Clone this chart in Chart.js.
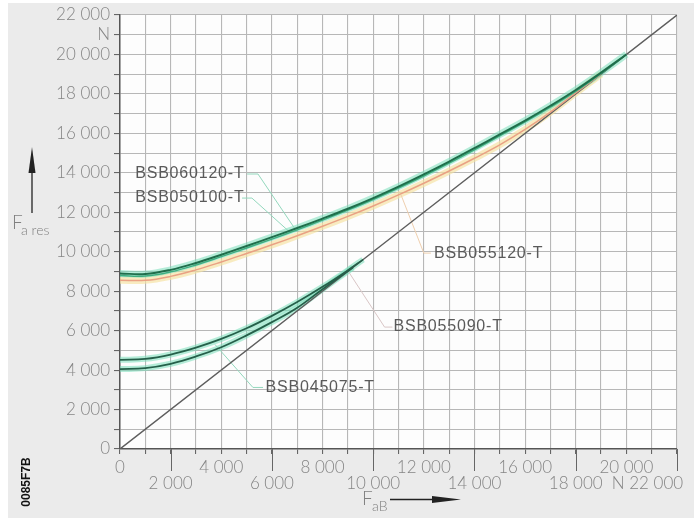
<!DOCTYPE html>
<html>
<head>
<meta charset="utf-8">
<script src="https://cdn.jsdelivr.net/npm/chart.js@4.4.1/dist/chart.umd.min.js"></script>
<style>
  html, body { margin: 0; padding: 0; background: #fff; }
  canvas { display: block; }
</style>
</head>
<body>
<canvas id="chart" width="694" height="518"></canvas>
<script>
// Axial load F_aB (N) at which the curves are tabulated
const axialLoad = [0, 1000, 2000, 3000, 4000, 5000, 6000, 7000, 8000, 9000, 10000,
                   11000, 12000, 13000, 14000, 15000, 16000, 17000, 18000, 19000, 20000];
const axialLoadLowA = [0, 1000, 2000, 3000, 4000, 5000, 6000, 7000, 8000, 9000, 9600];
const axialLoadLowB = [0, 1000, 2000, 3000, 4000, 5000, 6000, 7000, 8000, 9200];

// Resulting axial force F_a res (N) per nut size
const bsb060120 = [8900, 8870, 9080, 9430, 9850, 10290, 10740, 11200, 11680, 12180, 12720,
                   13300, 13920, 14570, 15250, 15950, 16650, 17400, 18200, 19080, 20000];
const bsb050100 = [8790, 8770, 8980, 9330, 9750, 10190, 10640, 11110, 11600, 12110, 12650,
                   13230, 13840, 14490, 15170, 15870, 16580, 17330, 18130, 19030, 20000];
const bsb055120 = [8560, 8550, 8750, 9080, 9480, 9910, 10350, 10810, 11290, 11790, 12320,
                   12880, 13470, 14090, 14740, 15420, 16200, 17080, 18050, 19000];
const bsb055090 = [4520, 4570, 4790, 5140, 5580, 6120, 6750, 7450, 8220, 9060, 9600];
const bsb045075 = [4050, 4100, 4320, 4690, 5160, 5760, 6430, 7160, 8100, 9200];

// Line of F_a res = F_aB
const referenceLine = [0, 22000];

// Axis range and tick step
const axisMax = 22000;
const tickStep = 1000;

// Series names
const seriesNames = ['BSB060120-T', 'BSB050100-T', 'BSB055120-T', 'BSB055090-T', 'BSB045075-T'];

// Callout leaders (data coordinates) and label anchors
const leader060120 = { x: [5020, 5450, 6900], y: [13940, 13940, 11180] };
const leader050100 = { x: [4820, 5210, 6700], y: [12720, 12720, 11000] };
const leader055120 = { x: [12280, 12000, 11100], y: [9930, 9930, 12880] };
const leader055090 = { x: [10760, 10450, 9000], y: [6180, 6180, 9040] };
const leader045075 = { x: [5650, 5250, 3750], y: [3120, 3120, 5300] };
const labelAnchors = [
  { x: 600, y: 13940 },
  { x: 600, y: 12720 },
  { x: 12400, y: 9930 },
  { x: 10800, y: 6180 },
  { x: 5750, y: 3120 }
];

const zip = (xs, ys) => ys.map((y, i) => ({ x: xs[i], y }));

const fmtThousands = v => v === 0 ? '0' : Math.floor(v / 1000) + ' ' + '000';

const TICK_FONT = { family: 'Lato, "DejaVu Sans", sans-serif', size: 17, weight: '300', lineHeight: 0.95 };
const TICK_COLOR = '#858585';

function curve(data, color, width, order) {
  return {
    data, borderColor: color, borderWidth: width, pointRadius: 0,
    showLine: true, fill: false, tension: 0.4, order
  };
}
function leader(obj, color) {
  return {
    data: zip(obj.x, obj.y), borderColor: color, borderWidth: 1, pointRadius: 0,
    showLine: true, fill: false, tension: 0, order: 20
  };
}

const mint = 'rgba(120, 222, 186, 0.55)';
const cream = 'rgba(246, 226, 160, 0.65)';

const datasets = [
  // halos
  curve(zip(axialLoad, bsb060120), mint, 7, 30),
  curve(zip(axialLoad, bsb055120), cream, 7, 31),
  curve(zip(axialLoadLowA, bsb055090), mint, 6, 30),
  curve(zip(axialLoadLowB, bsb045075), mint, 6, 30),
  // leaders
  leader(leader060120, '#93d8bd'),
  leader(leader050100, '#93d8bd'),
  leader(leader055120, '#efcfae'),
  leader(leader055090, '#d9c6c6'),
  leader(leader045075, '#93d8bd'),
  // reference line
  curve(zip(referenceLine, referenceLine), '#5e5e5e', 1.4, 5),
  // curves
  curve(zip(axialLoad, bsb055120), '#e9a184', 1.5, 4),
  curve(zip(axialLoad, bsb050100), '#3fae80', 1.5, 3),
  curve(zip(axialLoad, bsb060120), '#1f6e4b', 2, 2),
  curve(zip(axialLoadLowA, bsb055090), '#25604a', 1.8, 2),
  curve(zip(axialLoadLowB, bsb045075), '#25604a', 1.8, 2)
];

const decor = {
  id: 'decor',
  beforeDraw(chart) {
    const { ctx, chartArea: a } = chart;
    ctx.save();
    ctx.fillStyle = '#ffffff';
    ctx.fillRect(0, 0, chart.width, chart.height);
    ctx.fillStyle = '#ebebeb';
    ctx.fillRect(8, 3, chart.width - 8, chart.height - 3);
    ctx.fillStyle = '#fdfdfd';
    ctx.fillRect(a.left, a.top, a.right - a.left, a.bottom - a.top);
    ctx.restore();
  },
  afterDraw(chart) {
    const { ctx, chartArea: a, scales: { x, y } } = chart;
    ctx.save();

    // long ticks under the second row of x labels
    ctx.strokeStyle = '#666';
    ctx.lineWidth = 1;
    for (let v = 2000; v <= axisMax; v += 4000) {
      const px = Math.round(x.getPixelForValue(v)) + 0.5;
      ctx.beginPath();
      ctx.moveTo(px, a.bottom);
      ctx.lineTo(px, a.bottom + 22);
      ctx.stroke();
    }

    // callout labels
    ctx.fillStyle = '#5a5a5a';
    ctx.font = '16px "Liberation Sans", Arial, sans-serif';
    ctx.letterSpacing = '0.8px';
    ctx.textAlign = 'left';
    ctx.textBaseline = 'middle';
    seriesNames.forEach((name, i) => {
      const p = labelAnchors[i];
      ctx.fillText(name, x.getPixelForValue(p.x), y.getPixelForValue(p.y));
    });
    ctx.letterSpacing = '0px';

    // y axis title with arrow
    ctx.fillStyle = '#808080';
    ctx.textBaseline = 'alphabetic';
    ctx.font = '300 19px Lato, "DejaVu Sans", sans-serif';
    ctx.fillText('F', 12, 229);
    ctx.font = '300 14px Lato, "DejaVu Sans", sans-serif';
    ctx.fillText('a res', 21, 235);
    ctx.strokeStyle = '#222';
    ctx.fillStyle = '#222';
    ctx.lineWidth = 1.3;
    ctx.beginPath();
    ctx.moveTo(32, 213);
    ctx.lineTo(32, 168);
    ctx.stroke();
    ctx.beginPath();
    ctx.moveTo(32, 147);
    ctx.lineTo(35.5, 173);
    ctx.lineTo(28.5, 173);
    ctx.closePath();
    ctx.fill();

    // x axis title with arrow
    ctx.fillStyle = '#808080';
    ctx.font = '300 19px Lato, "DejaVu Sans", sans-serif';
    ctx.fillText('F', 362, 505);
    ctx.font = '300 14px Lato, "DejaVu Sans", sans-serif';
    ctx.fillText('aB', 372, 511);
    ctx.strokeStyle = '#222';
    ctx.fillStyle = '#222';
    ctx.beginPath();
    ctx.moveTo(390, 499.5);
    ctx.lineTo(436, 499.5);
    ctx.stroke();
    ctx.beginPath();
    ctx.moveTo(461, 499.5);
    ctx.lineTo(432, 496);
    ctx.lineTo(432, 503);
    ctx.closePath();
    ctx.fill();

    // drawing code
    ctx.translate(27, 482);
    ctx.rotate(-Math.PI / 2);
    ctx.fillStyle = '#111';
    ctx.font = 'bold 12px "Liberation Sans", Arial, sans-serif';
    ctx.textAlign = 'center';
    ctx.textBaseline = 'middle';
    ctx.fillText('0085F7B', 0, 0);
    ctx.restore();
  }
};

const gridColor = '#b7b7b7';

new Chart(document.getElementById('chart'), {
  type: 'scatter',
  data: { datasets },
  options: {
    responsive: false,
    animation: false,
    devicePixelRatio: 1,
    layout: { padding: { left: 0, top: 15, right: 17, bottom: 0 } },
    plugins: { legend: { display: false }, tooltip: { enabled: false } },
    scales: {
      x: {
        type: 'linear', min: 0, max: axisMax,
        afterFit(s) { s.height = 69; s.paddingLeft = 0; s.paddingRight = 0; },
        grid: { color: gridColor, lineWidth: 1.1, tickLength: 5, tickColor: '#666' },
        border: { display: true, color: '#555', width: 1.5 },
        ticks: {
          stepSize: tickStep, autoSkip: false, maxRotation: 0, minRotation: 0,
          padding: 5, color: TICK_COLOR, font: TICK_FONT,
          callback(v) {
            if (v % 4000 === 0) return [fmtThousands(v)];
            if (v % 2000 === 0) {
              if (v === axisMax) return ['', 'N ' + fmtThousands(v) + '\u2007\u2007\u2007\u2007\u2007\u2007'];
              return ['', fmtThousands(v)];
            }
            return '';
          }
        }
      },
      y: {
        type: 'linear', min: 0, max: axisMax,
        afterFit(s) { s.width = 120; s.paddingTop = 0; s.paddingBottom = 0; },
        grid: { color: gridColor, lineWidth: 1.1, tickLength: 6, tickColor: '#666' },
        border: { display: true, color: '#555', width: 1.5 },
        ticks: {
          stepSize: tickStep, autoSkip: false, padding: 4, color: TICK_COLOR, font: TICK_FONT,
          callback(v) {
            if (v === 21000) return 'N';
            if (v % 2000 === 0) return fmtThousands(v);
            return '';
          }
        }
      }
    }
  },
  plugins: [decor]
});
</script>
</body>
</html>
